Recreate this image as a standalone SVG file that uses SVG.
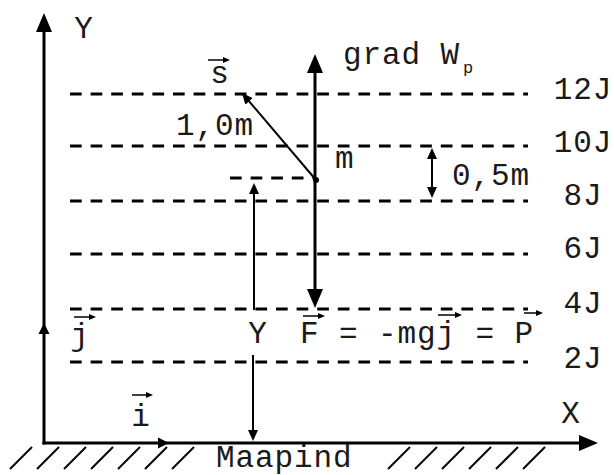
<svg xmlns="http://www.w3.org/2000/svg" width="614" height="475" viewBox="0 0 614 475">
<style>
.t{font-family:"Liberation Mono","DejaVu Sans Mono",monospace;font-size:31px;letter-spacing:0.9px;fill:#1a1a1a}
.m{text-anchor:middle}
.sub{font-family:"Liberation Mono","DejaVu Sans Mono",monospace;font-size:17px;fill:#1a1a1a}
.dash{stroke:#000;stroke-width:3;stroke-dasharray:11.7 8.9;fill:none}
.ax{stroke:#000;stroke-width:3;fill:none}
.thin{stroke:#000;stroke-width:2;fill:none}
.vec{stroke:#000;stroke-width:1.5;fill:none}
.hatch{stroke:#000;stroke-width:2}
</style>
<defs>
<marker id="big" markerUnits="userSpaceOnUse" viewBox="0 0 19 16" markerWidth="19" markerHeight="16" refX="1" refY="8" orient="auto-start-reverse"><path d="M0,0 L19,8 L0,16 z" fill="#000"/></marker>
<marker id="mid" markerUnits="userSpaceOnUse" viewBox="0 0 11 10" markerWidth="11" markerHeight="10" refX="1" refY="5" orient="auto-start-reverse"><path d="M0,0 L11,5 L0,10 z" fill="#000"/></marker>
<marker id="sm" markerUnits="userSpaceOnUse" viewBox="0 0 7 6" markerWidth="7" markerHeight="6" refX="1" refY="3" orient="auto"><path d="M0,0 L7,3 L0,6 z" fill="#000"/></marker>
</defs>

<g id="levels">
<line class="dash" x1="70" y1="94" x2="528" y2="94"/>
<line class="dash" x1="70" y1="146" x2="528" y2="146"/>
<line class="dash" x1="70" y1="201" x2="528" y2="201"/>
<line class="dash" x1="70" y1="254" x2="528" y2="254"/>
<line class="dash" x1="70" y1="309" x2="528" y2="309"/>
<line class="dash" x1="70" y1="362" x2="528" y2="362"/>
<line class="dash" x1="230" y1="178" x2="314" y2="178"/>
</g>

<g id="level-labels">
<text class="t m" x="583" y="99">12J</text>
<text class="t m" x="583" y="152">10J</text>
<text class="t m" x="583" y="205">8J</text>
<text class="t m" x="583" y="258">6J</text>
<text class="t m" x="583" y="313">4J</text>
<text class="t m" x="583" y="368">2J</text>
</g>

<g id="ground">
<g class="hatch">
<line x1="10" y1="469" x2="32" y2="447"/>
<line x1="37" y1="469" x2="59" y2="447"/>
<line x1="64" y1="469" x2="86" y2="447"/>
<line x1="91" y1="469" x2="113" y2="447"/>
<line x1="118" y1="469" x2="140" y2="447"/>
<line x1="145" y1="469" x2="167" y2="447"/>
<line x1="172" y1="469" x2="194" y2="447"/>
<line x1="388" y1="469" x2="410" y2="447"/>
<line x1="415" y1="469" x2="437" y2="447"/>
<line x1="442" y1="469" x2="464" y2="447"/>
<line x1="469" y1="469" x2="491" y2="447"/>
<line x1="496" y1="469" x2="518" y2="447"/>
<line x1="523" y1="469" x2="545" y2="447"/>
</g>
<text class="t" x="216" y="467">Maapind</text>
</g>

<g id="axes">
<line class="ax" x1="44" y1="444.5" x2="44" y2="31" marker-end="url(#big)"/>
<line class="ax" x1="42.5" y1="443" x2="580" y2="443" marker-end="url(#big)"/>
<polygon points="44,323 38.5,334 49.5,334" fill="#000"/>
<polygon points="169,443 158,437.5 158,448.5" fill="#000"/>
<text class="t m" x="84" y="38">Y</text>
<text class="t m" x="571" y="423">X</text>
</g>

<g id="unit-j">
<line class="vec" x1="74" y1="317" x2="90" y2="317" marker-end="url(#sm)"/>
<text class="t m" x="80" y="345">j</text>
</g>
<g id="unit-i">
<line class="vec" x1="132" y1="395" x2="147" y2="395" marker-end="url(#sm)"/>
<text class="t m" x="141" y="426">i</text>
</g>

<g id="mass">
<circle cx="316" cy="180" r="3" fill="#000"/>
<text class="t" x="335" y="168">m</text>
</g>

<g id="grad">
<line class="ax" x1="315" y1="290" x2="315" y2="72" marker-start="url(#big)" marker-end="url(#big)"/>
<text class="t" x="343" y="64">grad W</text>
<text class="sub" x="463" y="73">p</text>
</g>

<g id="displacement">
<line class="thin" x1="316" y1="180" x2="248.5" y2="100.6" marker-end="url(#mid)"/>
<line class="vec" x1="208" y1="60" x2="224" y2="60" marker-end="url(#sm)"/>
<text class="t m" x="220" y="83">s</text>
<text class="t" x="176" y="135">1,0m</text>
</g>

<g id="spacing">
<line class="thin" x1="432" y1="188" x2="432" y2="158" marker-start="url(#mid)" marker-end="url(#mid)"/>
<text class="t" x="452" y="185">0,5m</text>
</g>

<g id="height">
<line class="thin" x1="254" y1="310" x2="254" y2="193" marker-end="url(#mid)"/>
<line class="thin" x1="253" y1="355" x2="253" y2="431" marker-end="url(#mid)"/>
<text class="t m" x="258" y="343">Y</text>
</g>

<g id="force">
<line class="vec" x1="303" y1="316" x2="319" y2="316" marker-end="url(#sm)"/>
<line class="vec" x1="438" y1="315" x2="456" y2="315" marker-end="url(#sm)"/>
<line class="vec" x1="524" y1="313" x2="537" y2="313" marker-end="url(#sm)"/>
<text class="t" x="300" y="343">F = -mgj = P</text>
</g>
</svg>
